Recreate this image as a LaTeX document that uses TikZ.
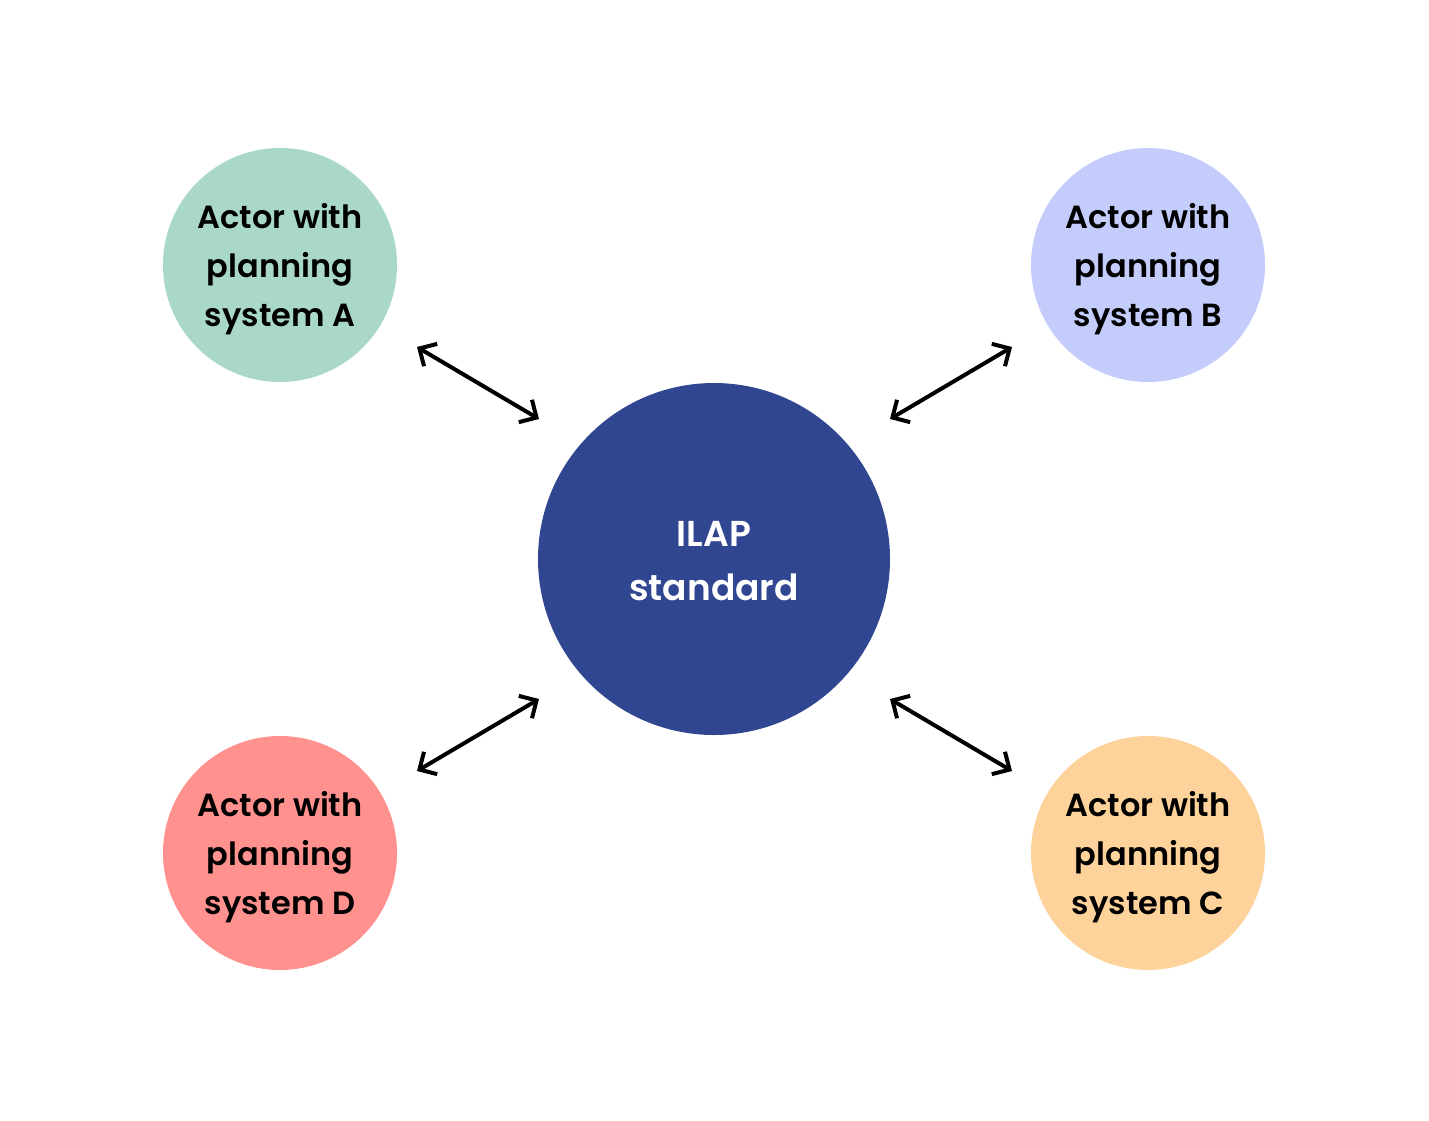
\documentclass[tikz,border=0pt]{standalone}
\usepackage{fontspec}
\setmainfont{Poppins}[BoldFont={Poppins SemiBold}]
\usetikzlibrary{arrows.meta}
\definecolor{cA}{HTML}{A9D8CA}
\definecolor{cB}{HTML}{C3CCFA}
\definecolor{cC}{HTML}{FED39B}
\definecolor{cD}{HTML}{FF928F}
\definecolor{cM}{HTML}{304690}
\tikzset{
  actor/.style={circle, minimum size=234pt, inner sep=0pt, align=center, text=black,
    font=\fontsize{32}{49}\selectfont\bfseries},
  hub/.style={circle, fill=cM, minimum size=352pt, inner sep=0pt, align=center, text=white,
    font=\fontsize{36}{54}\selectfont\bfseries},
  link/.style={line width=4pt, {Straight Barb[length=13pt,width=26pt,line width=4pt]}-{Straight Barb[length=13pt,width=26pt,line width=4pt]}}
}
\begin{document}
\begin{tikzpicture}[x=1pt,y=-1pt]
\useasboundingbox (0,0) rectangle (1429,1120);
\node[actor, fill=cA] (A) at (280,265) {};
\node[actor, fill=cB] (B) at (1148,265) {};
\node[actor, fill=cD] (D) at (280,853) {};
\node[actor, fill=cC] (C) at (1148,853) {};
\node[hub] (M) at (714,559) {};
\node[actor, fill=none, minimum size=0pt] (tA) at ([yshift=-4pt]A.center) {Actor with\\planning\\system A};
\node[actor, fill=none, minimum size=0pt] (tB) at ([yshift=-4pt]B.center) {Actor with\\planning\\system B};
\node[actor, fill=none, minimum size=0pt] (tD) at ([yshift=-4pt]D.center) {Actor with\\planning\\system D};
\node[actor, fill=none, minimum size=0pt] (tC) at ([yshift=-4pt]C.center) {Actor with\\planning\\system C};
\node[hub, fill=none, minimum size=0pt] (tM) at ([yshift=-2pt]M.center) {ILAP\\standard};
\coordinate (a1) at (417,347); \coordinate (a2) at (539,419);
\coordinate (b1) at (1012,347); \coordinate (b2) at (890,419);
\coordinate (d1) at (417,771); \coordinate (d2) at (539,699);
\coordinate (c1) at (1012,771); \coordinate (c2) at (890,699);
\draw[link] (a1) -- (a2);
\draw[link] (b1) -- (b2);
\draw[link] (d1) -- (d2);
\draw[link] (c1) -- (c2);
\end{tikzpicture}
\end{document}
